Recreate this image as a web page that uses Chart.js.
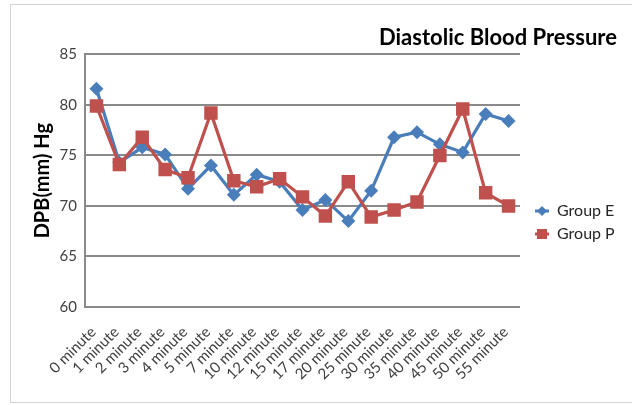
<!DOCTYPE html>
<html><head><meta charset="utf-8">
<script src="https://cdn.jsdelivr.net/npm/chart.js@4"></script>
<style>html,body{margin:0;padding:0;background:#fff}#wrap{position:relative;width:632px;height:405px}</style>
</head><body><div id="wrap"><canvas id="c" width="632" height="405"></canvas></div>
<script>
const categories = ['0 minute','1 minute','2 minute','3 minute','4 minute','5 minute','7 minute','10 minute','12 minute','15 minute','17 minute','20 minute','25 minute','30 minute','35 minute','40 minute','45 minute','50 minute','55 minute'];
const groupE = [81.6, 74.3, 75.8, 75.1, 71.7, 74.0, 71.1, 73.1, 72.4, 69.6, 70.6, 68.5, 71.5, 76.8, 77.3, 76.1, 75.3, 79.1, 78.4];
const groupP = [79.9, 74.1, 76.8, 73.6, 72.8, 79.2, 72.5, 71.9, 72.7, 70.9, 69.0, 72.4, 68.9, 69.6, 70.4, 75.0, 79.6, 71.3, 70.0];
const seriesNames = ['Group E', 'Group P'];
const yMin = 60, yMax = 85, yStep = 5;

const BLUE = '#4a7ebb', RED = '#c0504d';
const FONT = 'Lato, "Open Sans", sans-serif';

function makeIcon(color, shape) {
  const cv = document.createElement('canvas');
  cv.width = 32; cv.height = 14;
  const g = cv.getContext('2d');
  g.strokeStyle = color; g.lineWidth = 3;
  g.beginPath(); g.moveTo(13, 7); g.lineTo(27, 7); g.stroke();
  g.fillStyle = color;
  g.beginPath();
  if (shape === 'diamond') { g.moveTo(20, 2); g.lineTo(25, 7); g.lineTo(20, 12); g.lineTo(15, 7); g.closePath(); }
  else { g.rect(15, 2, 10, 10); }
  g.fill();
  return cv;
}
const icons = [makeIcon(BLUE, 'diamond'), makeIcon(RED, 'square')];

const framePlugin = {
  id: 'frame',
  beforeDraw(chart) {
    const c = chart.ctx;
    c.save();
    c.strokeStyle = '#d4d4d4'; c.lineWidth = 1;
    c.strokeRect(10.5, 4.5, 640, 398);
    c.restore();
  },
  beforeLayout(chart) {
    const lg = chart.legend;
    if (lg && !lg._wrappedFit) {
      const f = lg.fit.bind(lg);
      lg.fit = function () { f(); this.width = 97; };
      lg._wrappedFit = true;
    }
  },
  afterLayout(chart) {
    const lg = chart.legend;
    if (lg) { lg.top += 20; lg.bottom += 20; }
  }
};

new Chart(document.getElementById('c'), {
  type: 'line',
  data: {
    labels: categories,
    datasets: [
      { label: seriesNames[0], data: groupE, borderColor: BLUE, backgroundColor: BLUE, borderWidth: 3.2,
        pointStyle: 'rectRot', pointRadius: 7, pointBorderWidth: 0, tension: 0, order: 1 },
      { label: seriesNames[1], data: groupP, borderColor: RED, backgroundColor: RED, borderWidth: 3.2,
        pointStyle: 'rect', pointRadius: 9.5, pointBorderWidth: 0, tension: 0, order: 0 }
    ]
  },
  options: {
    responsive: false,
    animation: false,
    layout: { padding: { left: 10, right: 15, top: 0, bottom: 0 } },
    plugins: {
      tooltip: { enabled: false },
      title: {
        display: true, text: 'Diastolic Blood Pressure', align: 'end', color: '#000',
        font: { family: FONT, size: 22, weight: 'bold' }, padding: { top: 25, bottom: 3 }
      },
      legend: {
        position: 'right', align: 'center',
        labels: {
          usePointStyle: true, pointStyleWidth: 22, padding: 7, color: '#262626',
          font: { family: FONT, size: 16 },
          sort: (a, b) => a.datasetIndex - b.datasetIndex,
          generateLabels(chart) {
            return chart.data.datasets.map((ds, i) => ({
              text: ds.label, datasetIndex: i, pointStyle: icons[i], fillStyle: ds.borderColor,
              strokeStyle: ds.borderColor, lineWidth: 0, hidden: false, fontColor: '#262626'
            }));
          }
        }
      }
    },
    scales: {
      x: {
        offset: true,
        grid: { display: false, offset: true }, border: { display: false },
        ticks: { minRotation: 45, maxRotation: 45, autoSkip: false, color: '#404040', padding: 8,
          labelOffset: -3, font: { family: FONT, size: 15 } },
        afterFit(s) { s.height = 98; }
      },
      y: {
        min: yMin, max: yMax,
        ticks: { stepSize: yStep, color: '#404040', padding: 8, font: { family: FONT, size: 15 } },
        grid: { color: '#8a8a8a', lineWidth: 2, tickLength: 0, drawTicks: false },
        border: { display: true, color: '#8a8a8a', width: 2 },
        title: { display: true, text: 'DPB(mm) Hg', color: '#000', font: { family: FONT, size: 20, weight: 'bold' },
          padding: { top: 21, bottom: 0 } },
        afterFit(s) { s.width = 75; }
      }
    }
  },
  plugins: [framePlugin]
});
</script>
</body></html>
